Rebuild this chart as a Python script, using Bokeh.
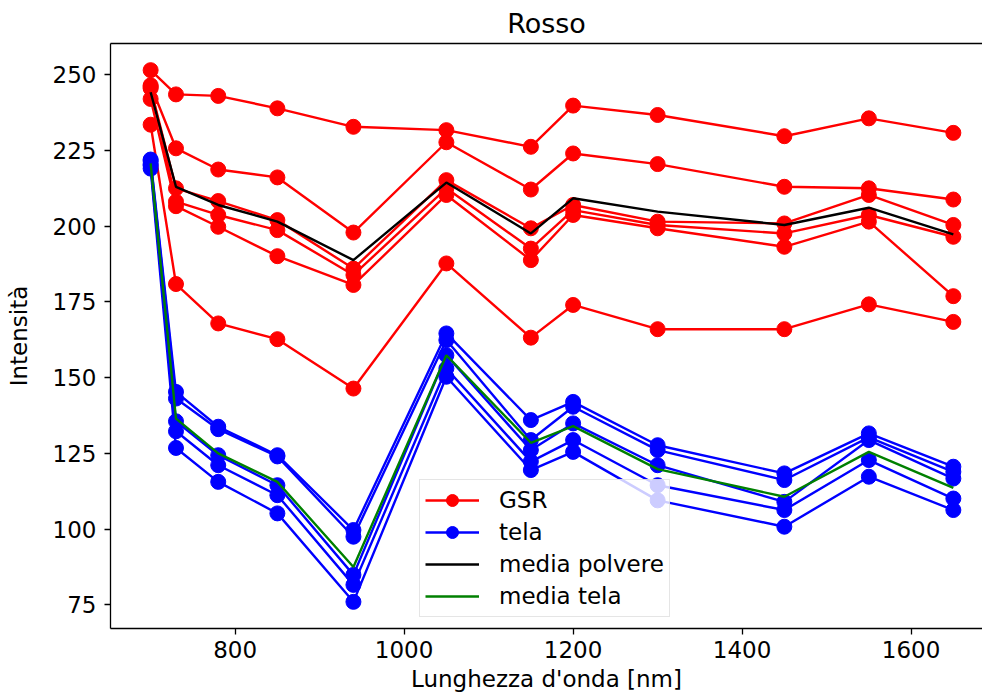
from bokeh.plotting import figure
from bokeh.models import Range1d, FixedTicker, LinearAxis, Legend, LegendItem
from bokeh.embed import file_html
from bokeh.resources import INLINE

# ---------------- data ----------------
wavelengths = [700, 730, 780, 850, 940, 1050, 1150, 1200, 1300, 1450, 1550, 1650]

gsr_1 = [251.5, 243.5, 243.0, 238.9, 232.8, 231.7, 226.2, 239.8, 236.7, 229.7, 235.6, 230.8]
gsr_2 = [246.5, 225.7, 218.7, 216.1, 197.9, 227.7, 212.1, 224.0, 220.5, 213.0, 212.5, 208.8]
gsr_3 = [245.5, 212.5, 208.3, 202.0, 186.0, 215.2, 199.3, 207.0, 201.5, 200.9, 210.3, 200.4]
gsr_4 = [246.0, 208.1, 203.7, 198.7, 183.9, 212.5, 192.6, 205.3, 200.4, 197.6, 203.7, 196.5]
gsr_5 = [242.0, 206.6, 199.8, 190.1, 180.6, 210.3, 188.8, 203.7, 199.3, 193.2, 201.5, 176.9]
gsr_6 = [233.5, 180.9, 167.9, 162.7, 146.4, 187.7, 163.2, 174.0, 166.0, 166.0, 174.2, 168.4]

tela_1 = [222.0, 145.3, 133.8, 124.4, 99.7, 164.6, 136.0, 142.0, 127.7, 118.4, 131.6, 120.6]
tela_2 = [221.5, 143.1, 133.0, 124.0, 97.5, 162.4, 129.4, 140.4, 126.1, 116.2, 130.3, 118.9]
tela_3 = [220.5, 135.6, 124.4, 114.5, 84.9, 157.4, 126.1, 134.9, 121.1, 109.0, 129.4, 116.7]
tela_4 = [220.0, 132.3, 121.1, 111.2, 81.6, 153.0, 122.3, 129.4, 114.5, 106.3, 122.8, 110.1]
tela_5 = [219.0, 126.8, 115.6, 105.2, 76.0, 150.3, 119.5, 125.5, 109.5, 100.8, 117.3, 106.3]

media_polvere = [244.2, 213.0, 207.0, 201.5, 188.8, 214.4, 197.6, 209.2, 204.8, 200.4, 206.1, 197.3]
media_tela = [220.7, 136.5, 125.0, 115.6, 87.5, 157.4, 128.5, 134.0, 119.8, 110.7, 125.5, 113.6]

x_ticks = [800, 1000, 1200, 1400, 1600]
y_ticks = [75, 100, 125, 150, 175, 200, 225, 250]

gsr_series = [gsr_1, gsr_2, gsr_3, gsr_4, gsr_5, gsr_6]
tela_series = [tela_1, tela_2, tela_3, tela_4, tela_5]

# ---------------- figure ----------------
FONT = "DejaVu Sans"
FS = "23px"
p = figure(width=982, height=695, output_backend="svg", toolbar_location=None,
           x_range=Range1d(652.5, 1684.5), y_range=Range1d(67.2, 260.3),
           min_border_left=110, min_border_right=0, min_border_top=42,
           min_border_bottom=67, title="Rosso")
p.outline_line_color = None
p.grid.visible = False
p.background_fill_color = "white"
p.border_fill_color = "white"

p.title.align = "center"
p.title.offset = 4
p.title.text_font = FONT
p.title.text_font_size = "27px"
p.title.text_font_style = "normal"
p.title.text_color = "black"

for ax in (p.xaxis[0], p.yaxis[0]):
    ax.axis_line_color = "black"
    ax.axis_line_width = 1.3
    ax.major_tick_line_color = "black"
    ax.major_tick_line_width = 1.3
    ax.major_tick_out = 6
    ax.major_tick_in = 0
    ax.minor_tick_line_color = None
    ax.major_label_text_font = FONT
    ax.major_label_text_font_size = FS
    ax.major_label_text_color = "black"
    ax.axis_label_text_font = FONT
    ax.axis_label_text_font_size = FS
    ax.axis_label_text_font_style = "normal"
    ax.axis_label_text_color = "black"

p.xaxis[0].ticker = FixedTicker(ticks=x_ticks)
p.yaxis[0].ticker = FixedTicker(ticks=y_ticks)
p.xaxis[0].axis_label = "Lunghezza d'onda [nm]"
p.yaxis[0].axis_label = "Intensità"
p.xaxis[0].major_label_standoff = 6
p.xaxis[0].axis_label_standoff = 5
p.yaxis[0].major_label_standoff = 8
p.yaxis[0].axis_label_standoff = 18

# top border line
top_axis = LinearAxis(ticker=FixedTicker(ticks=[]), major_tick_out=0, major_tick_in=0,
                      minor_tick_out=0, minor_tick_in=0, major_label_standoff=0,
                      major_label_text_font_size="0px", axis_line_color="black",
                      axis_line_width=1.3)
p.add_layout(top_axis, "above")

LW = 2.4
MS = 15
gsr_renderers = []
for s in gsr_series:
    l = p.line(wavelengths, s, line_color="#ff0000", line_width=LW)
    c = p.scatter(wavelengths, s, marker="circle", size=MS, fill_color="#ff0000",
                  line_color="#ff0000")
    gsr_renderers.append((l, c))

tela_renderers = []
for s in tela_series:
    l = p.line(wavelengths, s, line_color="#0000ff", line_width=LW)
    c = p.scatter(wavelengths, s, marker="circle", size=MS, fill_color="#0000ff",
                  line_color="#0000ff")
    tela_renderers.append((l, c))

r_mp = p.line(wavelengths, media_polvere, line_color="black", line_width=LW)
r_mt = p.line(wavelengths, media_tela, line_color="#008000", line_width=LW)

legend = Legend(items=[
    LegendItem(label="GSR", renderers=list(gsr_renderers[0])),
    LegendItem(label="tela", renderers=list(tela_renderers[0])),
    LegendItem(label="media polvere", renderers=[r_mp]),
    LegendItem(label="media tela", renderers=[r_mt]),
], location=(309, 11))
legend.margin = 0
legend.padding = 5
legend.spacing = 2
legend.glyph_width = 54
legend.glyph_height = 30
legend.label_height = 23
legend.label_standoff = 20
legend.label_text_font = FONT
legend.label_text_font_size = FS
legend.label_text_color = "black"
legend.border_line_color = "#cccccc"
legend.border_line_width = 1
legend.background_fill_color = "white"
legend.background_fill_alpha = 0.8
p.add_layout(legend)

open("out.html", "w").write(file_html(p, INLINE))
